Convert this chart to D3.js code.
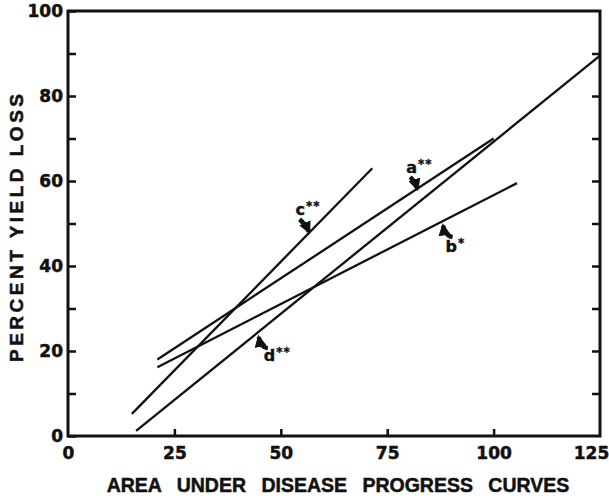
<!DOCTYPE html>
<html>
<head>
<meta charset="utf-8">
<script src="https://cdn.jsdelivr.net/npm/d3@7"></script>
<style>
  body { margin: 0; background: #fff; }
  text { font-family: "Liberation Sans", Arial, sans-serif; font-weight: bold; fill: #111; }
  .tick text, .lab { font-family: "DejaVu Sans", sans-serif; }
</style>
</head>
<body>
<svg width="609" height="498"></svg>
<script>
// regression lines, [x, y] end points
var lineNames = ["a", "b", "c", "d"];
var lineStart = [[21, 18], [21, 16.2], [15, 5.2], [16, 1.2]];
var lineEnd = [[100, 70], [105.5, 59.5], [71.5, 63], [125, 89.5]];
var lineStars = ["**", "*", "**", "**"];
// x where each arrow points on its line
var arrowAt = [82.3, 88, 57, 44.6];

var xTicks = [0, 25, 50, 75, 100, 125];
var yTicks = [0, 10, 20, 30, 40, 50, 60, 70, 80, 90, 100];

var svg = d3.select("svg");

var x = d3.scaleLinear().domain([0, 125]).range([68, 600]);
var y = d3.scaleLinear().domain([0, 100]).range([436, 11]);

function lineY(i, xv) {
  var s = lineStart[i], e = lineEnd[i];
  return s[1] + (e[1] - s[1]) * (xv - s[0]) / (e[0] - s[0]);
}

// left axis, inward ticks every 10, labels every 20
var yAxis = svg.append("g")
  .attr("transform", "translate(" + x(0) + ",0)")
  .call(d3.axisLeft(y).tickValues(yTicks).tickSize(-8).tickSizeOuter(0).tickPadding(5)
    .tickFormat(function(d) { return d % 20 === 0 ? d : ""; }));

// right axis, ticks only
var yAxisR = svg.append("g")
  .attr("transform", "translate(" + x(125) + ",0)")
  .call(d3.axisRight(y).tickValues(yTicks.slice(1, -1)).tickSize(-8).tickSizeOuter(0)
    .tickFormat(""));

// bottom axis
var xAxis = svg.append("g")
  .attr("transform", "translate(0," + y(0) + ")")
  .call(d3.axisBottom(x).tickValues(xTicks).tickSize(-7).tickSizeOuter(0).tickPadding(11));

[yAxis, yAxisR, xAxis].forEach(function(g) {
  g.select(".domain").remove();
  g.selectAll(".tick line").attr("stroke", "#111").attr("stroke-width", 2.5);
  g.selectAll(".tick text").attr("font-size", 17).attr("font-family", null)
    .attr("stroke", "#111").attr("stroke-width", 0.5);
});
xAxis.selectAll(".tick line").filter(function(d) { return d === 0 || d === 125; }).remove();
// keep the last label inside the page
xAxis.selectAll(".tick text").filter(function(d) { return d === 125; }).attr("dx", -9);

// frame
svg.append("rect")
  .attr("x", x(0)).attr("y", y(100))
  .attr("width", x(125) - x(0)).attr("height", y(0) - y(100))
  .attr("fill", "none").attr("stroke", "#111").attr("stroke-width", 3);

// axis titles
svg.append("text")
  .attr("x", 338).attr("y", 492)
  .attr("text-anchor", "middle")
  .attr("font-size", 19.5)
  .attr("word-spacing", 10)
  .attr("stroke", "#111").attr("stroke-width", 0.5)
  .text("AREA UNDER DISEASE PROGRESS CURVES");

svg.append("text")
  .attr("transform", "translate(23,228) rotate(-90)")
  .attr("text-anchor", "middle")
  .attr("font-size", 19)
  .attr("stroke", "#111").attr("stroke-width", 0.5)
  .attr("textLength", 268).attr("lengthAdjust", "spacing")
  .text("PERCENT  YIELD  LOSS");

// the four lines
svg.append("g").selectAll("line")
  .data(lineNames)
  .enter().append("line")
  .attr("x1", function(d, i) { return x(lineStart[i][0]); })
  .attr("y1", function(d, i) { return y(lineStart[i][1]); })
  .attr("x2", function(d, i) { return x(lineEnd[i][0]); })
  .attr("y2", function(d, i) { return y(lineEnd[i][1]); })
  .attr("stroke", "#111").attr("stroke-width", 2.3);

// arrow head
svg.append("defs").append("marker")
  .attr("id", "head")
  .attr("viewBox", "0 0 10 10").attr("refX", 8).attr("refY", 5)
  .attr("markerWidth", 2.8).attr("markerHeight", 2.8)
  .attr("markerUnits", "strokeWidth")
  .attr("orient", "auto")
  .append("path").attr("d", "M0,0L10,5L0,10z").attr("fill", "#111");

// label offsets from arrow tip (pixels): text pos, arrow tail, curve control
var labelOff = {
  a: { t: [-12, -17], tail: [-8, -13], c: [-3, -4] },
  b: { t: [3, 29], tail: [10, 14], c: [2, 8] },
  c: { t: [-15, -18], tail: [-11, -14], c: [-5, -5] },
  d: { t: [6, 27], tail: [10, 14], c: [3, 9] }
};

var ann = svg.append("g");
lineNames.forEach(function(n, i) {
  var tx = x(arrowAt[i]), ty = y(lineY(i, arrowAt[i])) + 2;
  var o = labelOff[n];
  ann.append("path")
    .attr("d", "M" + (tx + o.tail[0]) + "," + (ty + o.tail[1]) +
      "Q" + (tx + o.c[0]) + "," + (ty + o.c[1] + (n === "a" || n === "c" ? -4 : 4)) +
      " " + (tx + o.c[0] * 0.3) + "," + (ty + o.c[1] * 0.3))
    .attr("fill", "none").attr("stroke", "#111").attr("stroke-width", 4.4)
    .attr("marker-end", "url(#head)");
  var t = ann.append("text").attr("class", "lab")
    .attr("x", tx + o.t[0]).attr("y", ty + o.t[1])
    .attr("font-size", 16)
    .attr("stroke", "#111").attr("stroke-width", 0.4);
  t.append("tspan").text(n);
  t.append("tspan").attr("dy", -5).attr("font-size", 12).attr("dx", 1)
    .attr("letter-spacing", 1).text(lineStars[i]);
});
</script>
</body>
</html>
